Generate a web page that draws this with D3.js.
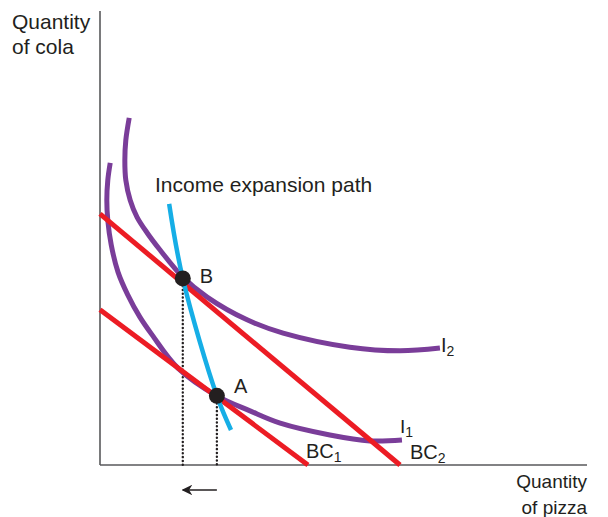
<!DOCTYPE html>
<html>
<head>
<meta charset="utf-8">
<script src="https://cdn.jsdelivr.net/npm/d3@7"></script>
<style>
  html, body { margin: 0; padding: 0; background: #fff; }
  text { font-family: "Liberation Sans", Arial, Helvetica, sans-serif; fill: #231f20; }
</style>
</head>
<body>
<svg id="chart" width="608" height="517"></svg>
<script>
// budget lines: [x, y] endpoints on the axes
const bc1 = [[0, 3.41], [4.27, 0]];
const bc2 = [[0, 5.52], [6.16, 0]];

// indifference curves
const i1 = [[0.21, 6.64], [0.16, 6.26], [0.14, 5.82], [0.16, 5.38], [0.23, 4.84], [0.37, 4.24],
  [0.57, 3.74], [0.82, 3.25], [1.07, 2.86], [1.60, 2.13], [2.40, 1.52], [3.08, 1.19],
  [3.70, 0.92], [4.72, 0.66], [5.54, 0.53], [6.20, 0.55]];
const i2 = [[0.60, 7.63], [0.53, 7.14], [0.51, 6.70], [0.53, 6.26], [0.62, 5.82], [0.76, 5.45],
  [0.97, 5.10], [1.23, 4.73], [1.70, 4.13], [2.20, 3.69], [3.02, 3.19], [3.76, 2.90],
  [5.13, 2.59], [6.16, 2.51], [6.98, 2.57]];

// income expansion path
const expansion = [[1.42, 5.74], [1.70, 4.10], [2.40, 1.52], [2.69, 0.77]];

// optimal bundles
const points = [
  { name: 'B', x: 1.70, y: 4.10, dy: 5 },
  { name: 'A', x: 2.40, y: 1.52, dy: -3 }
];

const svg = d3.select('#chart');
const x = d3.scaleLinear().domain([0, 10]).range([100, 587]);
const y = d3.scaleLinear().domain([0, 10]).range([465, 10]);

const purple = '#7a3d99';
const red = '#ec1c24';
const blue = '#16aee6';

// axes
svg.append('line')
  .attr('x1', x(0)).attr('x2', x(0))
  .attr('y1', y(0)).attr('y2', y(10) + 1)
  .attr('stroke', '#58595b').attr('stroke-width', 1.6);
svg.append('line')
  .attr('x1', x(0)).attr('x2', x(10))
  .attr('y1', y(0)).attr('y2', y(0))
  .attr('stroke', '#58595b').attr('stroke-width', 1.6);

// axis titles
const yTitle = svg.append('text').attr('font-size', 21);
yTitle.append('tspan').attr('x', 12).attr('y', 29).text('Quantity');
yTitle.append('tspan').attr('x', 12).attr('y', 54).text('of cola');

const xTitle = svg.append('text').attr('font-size', 19).attr('text-anchor', 'end');
xTitle.append('tspan').attr('x', 587).attr('y', 488).text('Quantity');
xTitle.append('tspan').attr('x', 587).attr('y', 514).text('of pizza');

// dotted drop lines
svg.selectAll('.drop')
  .data(points)
  .enter()
  .append('line')
  .attr('class', 'drop')
  .attr('x1', d => x(d.x)).attr('x2', d => x(d.x))
  .attr('y1', d => y(d.y)).attr('y2', y(0))
  .attr('stroke', '#231f20')
  .attr('stroke-width', 2.4)
  .attr('stroke-linecap', 'round')
  .attr('stroke-dasharray', '0.1,3.7');

const curve = d3.line()
  .x(d => x(d[0]))
  .y(d => y(d[1]))
  .curve(d3.curveCatmullRom.alpha(0.5));

// indifference curves
[i1, i2].forEach(c => {
  svg.append('path')
    .attr('d', curve(c))
    .attr('fill', 'none')
    .attr('stroke', purple)
    .attr('stroke-width', 5);
});

// budget lines
[bc1, bc2].forEach(c => {
  svg.append('path')
    .attr('d', d3.line().x(d => x(d[0])).y(d => y(d[1]))(c))
    .attr('fill', 'none')
    .attr('stroke', red)
    .attr('stroke-width', 5);
});

// expansion path
svg.append('path')
  .attr('d', curve(expansion))
  .attr('fill', 'none')
  .attr('stroke', blue)
  .attr('stroke-width', 4.5);

// points
svg.selectAll('.pt')
  .data(points)
  .enter()
  .append('circle')
  .attr('class', 'pt')
  .attr('cx', d => x(d.x))
  .attr('cy', d => y(d.y))
  .attr('r', 8)
  .attr('fill', '#231f20');

svg.selectAll('.pt-label')
  .data(points)
  .enter()
  .append('text')
  .attr('class', 'pt-label')
  .attr('x', d => x(d.x) + 17)
  .attr('y', d => y(d.y) + d.dy)
  .attr('font-size', 20)
  .text(d => d.name);

// curve labels
svg.append('text')
  .attr('x', 155).attr('y', 192)
  .attr('font-size', 21)
  .text('Income expansion path');

const subLabel = (px, py, main, sub, size = 20) => {
  const t = svg.append('text').attr('x', px).attr('y', py).attr('font-size', size);
  t.append('tspan').text(main);
  t.append('tspan').attr('font-size', 14).attr('dy', 4).text(sub);
};
subLabel(441, 352, 'I', '2');
subLabel(400, 433, 'I', '1', 19);
subLabel(306, 458, 'BC', '1');
subLabel(410, 459, 'BC', '2');

// arrow under the x-axis
svg.append('defs').append('marker')
  .attr('id', 'arrowhead')
  .attr('viewBox', '0 0 10 10')
  .attr('refX', 9).attr('refY', 5)
  .attr('markerWidth', 7).attr('markerHeight', 7)
  .attr('orient', 'auto-start-reverse')
  .append('path')
  .attr('d', 'M0,0 L10,5 L0,10 L3,5 Z')
  .attr('fill', '#231f20');

svg.append('line')
  .attr('x1', x(points[1].x)).attr('x2', x(points[0].x))
  .attr('y1', 490).attr('y2', 490)
  .attr('stroke', '#231f20')
  .attr('stroke-width', 1.5)
  .attr('marker-end', 'url(#arrowhead)');
</script>
</body>
</html>
